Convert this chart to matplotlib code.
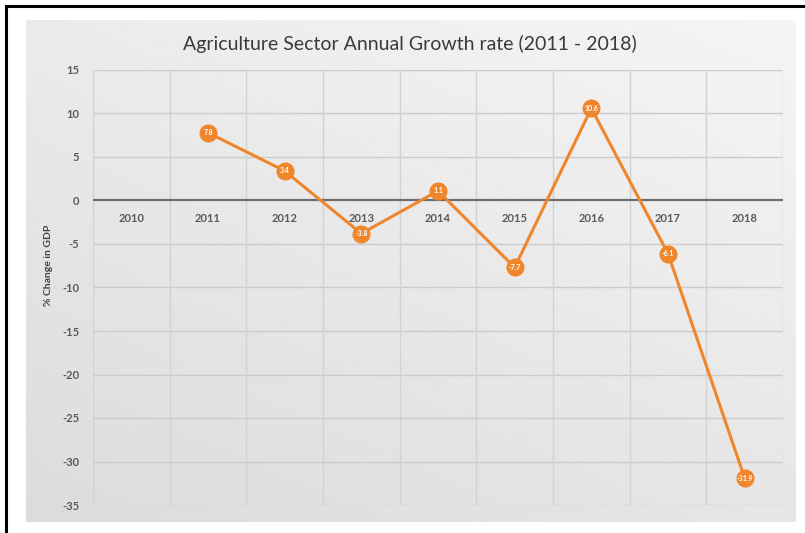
import numpy as np
import matplotlib
matplotlib.use("Agg")
import matplotlib.pyplot as plt
from matplotlib.lines import Line2D

years = ["2010", "2011", "2012", "2013", "2014", "2015", "2016", "2017", "2018"]
growth = [np.nan, 7.8, 3.4, -3.8, 1.1, -7.7, 10.6, -6.1, -31.9]
labels = ["", "7.8", "3.4", "-3.8", "1.1", "-7.7", "10.6", "-6.1", "-31.9"]
yticks = [15, 10, 5, 0, -5, -10, -15, -20, -25, -30, -35]

title = "Agriculture Sector Annual Growth rate (2011 - 2018)"
ylabel = "% Change in GDP"

plt.rcParams['font.family'] = ['Lato', 'DejaVu Sans']

fig = plt.figure(figsize=(8.05, 5.33), dpi=100)
fig.patch.set_facecolor('white')

# gray chart background with gradient
bg_ax = fig.add_axes([26/805, 1 - 522/533, (795-26)/805, (522-20)/533])
bg_ax.set_axis_off()
gx = np.linspace(0, 1, 200)
gy = np.linspace(0, 1, 200)
GX, GY = np.meshgrid(gx, gy)
val = 0.86 + 0.10 * (0.6 * (1 - GY) + 0.4 * GX)
bg_ax.imshow(val, cmap='gray', vmin=0, vmax=1, aspect='auto', extent=[0, 1, 0, 1], origin='upper')
bg_ax.set_xlim(0, 1)
bg_ax.set_ylim(0, 1)

# outer frame lines
fig.add_artist(Line2D([6/805, 6/805], [0, 1 - 6/533], transform=fig.transFigure, color='black', lw=2.2))
fig.add_artist(Line2D([6/805, 1], [1 - 6/533, 1 - 6/533], transform=fig.transFigure, color='black', lw=2.2))

ax = fig.add_axes([93/805, 1 - 505/533, (783-93)/805, (505-70)/533])
ax.set_facecolor('none')
x = np.arange(len(years))
ax.set_xlim(-0.5, len(years) - 0.5)
ax.set_ylim(-35, 15)

for yv in yticks:
    if yv != 0:
        ax.axhline(yv, color='#cbcbcb', lw=1.0, zorder=1)
for xv in np.arange(-0.5, len(years), 1.0):
    ax.axvline(xv, color='#d2d2d2', lw=1.0, zorder=1)
ax.axhline(0, color='#6e6e6e', lw=1.6, zorder=2)

for s in ax.spines.values():
    s.set_visible(False)
ax.set_xticks([])
ax.set_yticks(yticks)
ax.set_yticklabels([str(v) for v in yticks], fontsize=8, fontweight='bold', color='#595959')
ax.tick_params(axis='y', length=0, pad=10)

for xi, yr in zip(x, years):
    ax.annotate(yr, (xi, 0), xytext=(0, -13), textcoords='offset points',
                ha='center', va='center', fontsize=8, fontweight='bold', color='#595959', zorder=3)

ax.plot(x, growth, color='#F0862C', lw=2.2, marker='o', markersize=12,
        markerfacecolor='#F0862C', markeredgecolor='#F0862C', zorder=4)
for xi, yv, lb in zip(x, growth, labels):
    if lb:
        ax.text(xi, yv, lb, ha='center', va='center', fontsize=5, color='white',
                fontweight='bold', zorder=5)

fig.text(410/805, 1 - 44/533, title, ha='center', va='center', fontsize=14, color='#3a3a3a')
fig.text(48/805, 1 - 265/533, ylabel, ha='center', va='center', rotation=90,
         fontsize=7.5, fontweight='bold', color='#404040')

fig.savefig('out.png', dpi=100)
